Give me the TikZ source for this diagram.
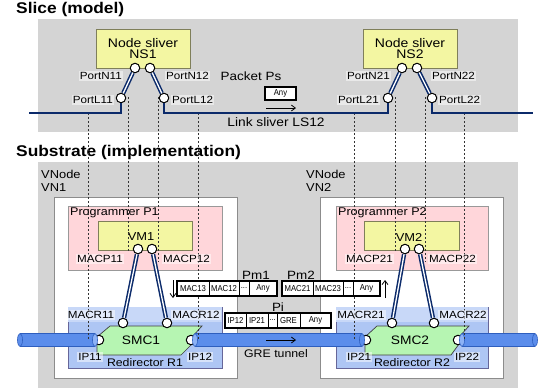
\documentclass[tikz,border=0pt]{standalone}
\usepackage{fontspec}
\setmainfont{Liberation Sans}[FakeStretch=1.12]
\newfontfamily\cellfont{Liberation Sans}[FakeStretch=0.9]
\usetikzlibrary{arrows.meta}
\newcommand\myfs[1]{\fontsize{#1}{#1}\selectfont}
\definecolor{panelgray}{HTML}{D4D4D4}
\definecolor{ylw}{HTML}{F3F6A2}
\definecolor{ylwb}{HTML}{7F7F5A}
\definecolor{pnk}{HTML}{FFD6DA}
\definecolor{rblue}{HTML}{AEC6F4}
\definecolor{rband}{HTML}{C8D8F8}
\definecolor{smcg}{HTML}{B6F5B2}
\definecolor{tubef}{HTML}{5B8DEB}
\definecolor{tubel}{HTML}{2E5EBE}
\definecolor{tubee}{HTML}{8DB2F6}
\definecolor{navy}{HTML}{0B2A6A}
\begin{document}
\begin{tikzpicture}[x=1pt,y=-1pt,
  ybox/.style={draw=ylwb,fill=ylw,line width=0.6pt,inner sep=0pt,align=center},
  pinkbox/.style={draw=gray!80,fill=pnk,line width=0.6pt,inner sep=0pt},
  whitebox/.style={draw=gray!90,fill=white,line width=0.7pt,inner sep=0pt},
  redbox/.style={draw=gray!80!blue,fill=rblue,line width=0.6pt,inner sep=0pt},
  port/.style={circle,draw=black,fill=white,line width=1pt,inner sep=0pt,minimum size=9.5pt},
  lbl/.style={fill=white,fill opacity=0.5,text opacity=1,inner sep=1pt,font=\myfs{10.4}},
  txt/.style={inner sep=0pt,font=\myfs{11.5}},
  ttl/.style={inner sep=0pt,font=\bfseries\myfs{15.5},anchor=west},
  link/.style={draw=navy,line width=2pt},
  dbl/.style={draw=navy,line width=1.5pt,double=white,double distance=1.3pt},
  vdash/.style={draw=black!80,line width=0.5pt,dash pattern=on 2pt off 2pt},
  pkt/.style={draw=black,line width=2.2pt,fill=white,inner sep=0pt},
  cell/.style={inner sep=0pt,font=\cellfont\myfs{8.6}},
  arr/.style={draw=black,line width=0.8pt,-{Straight Barb[length=4pt,width=6pt]}}
]
\useasboundingbox (0,0) rectangle (547,391);
\fill[white] (0,0) rectangle (547,391);

% titles
\node[ttl] (t1) at (16,9) {Slice (model)};
\node[ttl] (t2) at (16,152) {Substrate (implementation)};

% panels
\fill[panelgray] (38,19) rectangle (518,132);
\fill[panelgray] (38,162) rectangle (518,388);

% slice node slivers
\node[ybox,minimum width=94pt,minimum height=39pt,font=\myfs{12.5},
      text depth=0pt] (ns1) at (143,48.5) {Node sliver\\[-1pt]NS1};
\node[ybox,minimum width=94pt,minimum height=39pt,font=\myfs{12.5},
      text depth=0pt] (ns2) at (410,48.5) {Node sliver\\[-1pt]NS2};

% substrate boxes
\node[whitebox,minimum width=183pt,minimum height=181pt] (vn1) at (145.5,287.5) {};
\node[whitebox,minimum width=183pt,minimum height=181pt] (vn2) at (411.5,287.5) {};
\node[pinkbox,minimum width=154pt,minimum height=64pt] (p1) at (145,238) {};
\node[pinkbox,minimum width=152pt,minimum height=64pt] (p2) at (412,238) {};
\node[ybox,minimum width=94pt,minimum height=29pt,font=\myfs{11.5}] (vm1) at (145,235.5) {};
\node[ybox,minimum width=95pt,minimum height=29pt,font=\myfs{11.5}] (vm2) at (411.5,235.5) {};
\node[txt] (vm1t) at (141,237) {VM1};
\node[txt] (vm2t) at (409,237) {VM2};
\node[redbox,minimum width=154pt,minimum height=61pt] (r1) at (145,337.5) {};
\node[redbox,minimum width=152pt,minimum height=61pt] (r2) at (412,337.5) {};
\fill[rband] (68.4,307.4) rectangle (221.6,322);
\fill[rband] (336.4,307.4) rectangle (487.6,322);

% labels of boxes
\node[txt,anchor=west,align=left] (vn1l) at (41,181) {VNode\\[2pt]VN1};
\node[txt,anchor=west,align=left] (vn2l) at (306,181) {VNode\\[2pt]VN2};
\node[txt,anchor=west,font=\myfs{11.2}] (p1l) at (70,213) {Programmer P1};
\node[txt,anchor=west,font=\myfs{11.2}] (p2l) at (338,213) {Programmer P2};

% SMC shapes
\draw[fill=smcg,draw=black!75,line width=0.7pt]
  (110,326) -- (202,326) -- (192,337) -- (192,344) -- (181,355) -- (97,355) -- (97,337) -- cycle;
\draw[fill=smcg,draw=black!75,line width=0.7pt]
  (377,326) -- (469,326) -- (459,337) -- (459,344) -- (451,355) -- (365,355) -- (365,337) -- cycle;
\node[txt,font=\myfs{12.3}] (smc1) at (141,340) {SMC1};
\node[txt,font=\myfs{12.3}] (smc2) at (410,340) {SMC2};

% IP ports
\node[port] (ip11) at (99,340) {};
\node[port] (ip12) at (191,340) {};
\node[port] (ip21) at (366,340) {};
\node[port] (ip22) at (458,340) {};

% tubes
\newcommand\mytube[2]{%
  \fill[tubef] (#1,333.5) rectangle (#2,346.5);
  \draw[tubel,line width=0.6pt] (#1,333.5) -- (#2,333.5) (#1,346.5) -- (#2,346.5);
  \draw[tubel,fill=tubef,line width=0.6pt] (#1,340) ellipse (2.5 and 6.5);
  \draw[tubel,fill=tubee,line width=0.6pt] (#2,340) ellipse (2.5 and 6.5);}
\mytube{20}{95}
\mytube{362}{195}
\mytube{535}{462}

% dashed correspondences
\coordinate (da1) at (88,113);  \coordinate (db1) at (88,340);
\coordinate (da2) at (128,97);  \coordinate (db2) at (128,252);
\coordinate (da3) at (158,97);  \coordinate (db3) at (158,262);
\coordinate (da4) at (198,113); \coordinate (db4) at (198,340);
\coordinate (da5) at (354,113); \coordinate (db5) at (354,340);
\coordinate (da6) at (395,97);  \coordinate (db6) at (395,252);
\coordinate (da7) at (425,97);  \coordinate (db7) at (425,262);
\coordinate (da8) at (464,113); \coordinate (db8) at (464,340);
\foreach \i in {1,...,8} {\draw[vdash] (da\i) -- (db\i);}

% slice ports
\node[port] (pn11) at (135,68) {};
\node[port] (pn12) at (150,68) {};
\node[port] (pl11) at (121,98) {};
\node[port] (pl12) at (164,98) {};
\node[port] (pn21) at (402,68) {};
\node[port] (pn22) at (417,68) {};
\node[port] (pl21) at (388,98) {};
\node[port] (pl22) at (432,98) {};

% slice link
\coordinate (lk0) at (29,113);
\coordinate (lkm) at (276,113);
\coordinate (lk1) at (533,113);
\draw[link] (lk0) -| (pl11);
\draw[link] (pl12) |- (lkm) -| (pl21);
\draw[link] (pl22) |- (lk1);
\draw[dbl] (pn11) -- (pl11);
\draw[dbl] (pn12) -- (pl12);
\draw[dbl] (pn21) -- (pl21);
\draw[dbl] (pn22) -- (pl22);

% substrate MAC ports
\node[port] (mp11) at (138,249) {};
\node[port] (mp12) at (152,249) {};
\node[port] (mp21) at (405,249) {};
\node[port] (mp22) at (419,249) {};
\node[port] (mr11) at (123,323) {};
\node[port] (mr12) at (167,323) {};
\node[port] (mr21) at (392,323) {};
\node[port] (mr22) at (434,323) {};
\draw[dbl] (mp11) -- (mr11);
\draw[dbl] (mp12) -- (mr12);
\draw[dbl] (mp21) -- (mr21);
\draw[dbl] (mp22) -- (mr22);

% port labels
\node[lbl,anchor=east] (lpn11) at (123,76) {PortN11};
\node[lbl,anchor=west] (lpn12) at (165,76) {PortN12};
\node[lbl,anchor=east] (lpl11) at (114,100) {PortL11};
\node[lbl,anchor=west] (lpl12) at (171,100) {PortL12};
\node[lbl,anchor=east] (lpn21) at (391,76) {PortN21};
\node[lbl,anchor=west] (lpn22) at (431,76) {PortN22};
\node[lbl,anchor=east] (lpl21) at (380,100) {PortL21};
\node[lbl,anchor=west] (lpl22) at (438,100) {PortL22};
\node[lbl,anchor=east] (lmp11) at (124,259) {MACP11};
\node[lbl,anchor=west] (lmp12) at (162,259) {MACP12};
\node[lbl,anchor=east] (lmp21) at (394,259) {MACP21};
\node[lbl,anchor=west] (lmp22) at (428,259) {MACP22};
\node[lbl] (lmr11) at (91,315) {MACR11};
\node[lbl] (lmr12) at (196,315) {MACR12};
\node[lbl] (lmr21) at (361,315) {MACR21};
\node[lbl] (lmr22) at (463,315) {MACR22};
\node[lbl] (lip11) at (90,357) {IP11};
\node[lbl] (lip12) at (200,357) {IP12};
\node[lbl] (lip21) at (359,357) {IP21};
\node[lbl] (lip22) at (467,357) {IP22};
\node[txt,font=\myfs{11}] (r1l) at (145,363) {Redirector R1};
\node[txt,font=\myfs{11}] (r2l) at (412,363) {Redirector R2};

% slice packet
\node[txt,font=\myfs{12}] (psl) at (251,76) {Packet Ps};
\node[pkt,minimum width=31pt,minimum height=13pt,line width=2.4pt] (ps) at (280.5,93.5) {};
\node[cell] (psa) at (ps) {Any};
\coordinate (psa0) at (266,108); \coordinate (psa1) at (296,108);
\draw[arr] (psa0) -- (psa1);
\node[txt,font=\myfs{12.3}] (ls12) at (276,122) {Link sliver LS12};

% substrate packets
\node[txt,font=\myfs{12}] (pm1l) at (256,275) {Pm1};
\node[txt,font=\myfs{12}] (pm2l) at (301,275) {Pm2};
\node[txt,font=\myfs{12}] (pil) at (278,307) {Pi};

\node[pkt,minimum width=100pt,minimum height=15pt] (pm1) at (227,288.5) {};
\draw[line width=0.6pt] (209,281) -- (209,296) (239,281) -- (239,296) (249,281) -- (249,296);
\node[cell] (c11) at (193,288.5) {MAC13};
\node[cell] (c12) at (224,288.5) {MAC12};
\node[cell] (c13) at (244,288.5) {...};
\node[cell] (c14) at (263,288.5) {Any};

\node[pkt,minimum width=98pt,minimum height=15pt] (pm2) at (331,288.5) {};
\draw[line width=0.6pt] (313,281) -- (313,296) (343,281) -- (343,296) (353,281) -- (353,296);
\node[cell] (c21) at (297.5,288.5) {MAC21};
\node[cell] (c22) at (328,288.5) {MAC23};
\node[cell] (c23) at (348,288.5) {...};
\node[cell] (c24) at (366.5,288.5) {Any};

\node[pkt,minimum width=106pt,minimum height=15pt] (pi) at (278,320.5) {};
\draw[line width=0.6pt] (246,313) -- (246,328) (268,313) -- (268,328) (277,313) -- (277,328) (300,313) -- (300,328);
\node[cell] (c31) at (235.5,320.5) {IP12};
\node[cell] (c32) at (257,320.5) {IP21};
\node[cell] (c33) at (272.5,320.5) {...};
\node[cell] (c34) at (288.5,320.5) {GRE};
\node[cell] (c35) at (315.5,320.5) {Any};

\coordinate (dn0) at (173,280); \coordinate (dn1) at (173,298);
\draw[arr] (dn0) -- (dn1);
\coordinate (up0) at (385,298); \coordinate (up1) at (385,280);
\draw[arr] (up0) -- (up1);

\coordinate (ga0) at (266,340); \coordinate (ga1) at (296,340);
\draw[arr] (ga0) -- (ga1);
\node[txt,font=\myfs{11}] (gre) at (276,354) {GRE tunnel};
\end{tikzpicture}
\end{document}
